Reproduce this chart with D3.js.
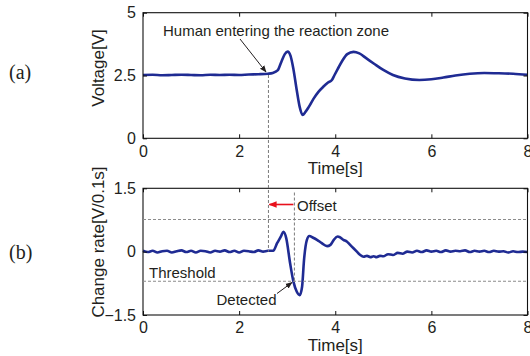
<!DOCTYPE html>
<html>
<head>
<meta charset="utf-8">
<script src="https://cdn.jsdelivr.net/npm/d3@7"></script>
<style>
  body { margin: 0; background: #fff; }
  text { font-family: "Liberation Sans", Arial, sans-serif; fill: #231f20; }
</style>
</head>
<body>
<div id="chart"></div>
<script>
// (a) sensor voltage
const voltageTime = [0, 0.2, 0.4, 0.6, 0.8, 1.0, 1.2, 1.4, 1.6, 1.8, 2.0, 2.2, 2.4, 2.6, 2.7, 2.8, 2.88, 2.95, 3.01, 3.07, 3.13, 3.2, 3.26, 3.32, 3.38, 3.45, 3.55, 3.65, 3.75, 3.85, 3.93, 3.98, 4.05, 4.15, 4.25, 4.38, 4.5, 4.65, 4.8, 5.0, 5.2, 5.45, 5.75, 6.0, 6.25, 6.5, 6.8, 7.1, 7.4, 7.7, 8.0];
const voltageValues = [2.52, 2.53, 2.51, 2.52, 2.53, 2.52, 2.51, 2.53, 2.52, 2.53, 2.52, 2.54, 2.55, 2.57, 2.6, 2.7, 3.05, 3.35, 3.45, 3.28, 2.75, 1.9, 1.25, 0.93, 1.05, 1.25, 1.58, 1.85, 2.05, 2.22, 2.32, 2.5, 2.75, 3.1, 3.35, 3.44, 3.38, 3.18, 2.98, 2.72, 2.52, 2.38, 2.32, 2.35, 2.42, 2.5, 2.57, 2.6, 2.59, 2.57, 2.53];

// (b) change rate
const rateTime = [0, 0.1, 0.2, 0.3, 0.4, 0.5, 0.6, 0.7, 0.8, 0.9, 1.0, 1.1, 1.2, 1.3, 1.4, 1.5, 1.6, 1.7, 1.8, 1.9, 2.0, 2.1, 2.2, 2.3, 2.4, 2.5, 2.6,
  2.71, 2.79, 2.87, 2.92, 2.98, 3.06, 3.13, 3.2, 3.26, 3.31, 3.35, 3.41, 3.46, 3.54, 3.62, 3.72, 3.83, 3.9, 3.97, 4.05, 4.1, 4.17, 4.24, 4.31, 4.38, 4.45, 4.52, 4.59, 4.66, 4.73, 4.8, 4.86, 4.93, 5.0, 5.1, 5.2, 5.3, 5.4, 5.5, 5.6,
  5.7, 5.8, 5.9, 6.0, 6.1, 6.2, 6.3, 6.4, 6.5, 6.6, 6.7, 6.8, 6.9, 7.0, 7.1, 7.2, 7.3, 7.4, 7.5, 7.6, 7.7, 7.8, 7.9, 8.0];
const rateValues = [0.02, -0.01, 0.02, -0.02, 0.01, 0.02, -0.02, 0.01, 0.03, -0.01, 0.02, -0.02, 0.02, 0.01, -0.02, 0.02, 0.0, 0.03, -0.01, 0.02, -0.02, 0.02, 0.01, -0.01, 0.03, 0.0, 0.02,
  0.02, 0.2, 0.36, 0.47, 0.32, -0.27, -0.71, -0.95, -1.03, -0.83, -0.2, 0.28, 0.37, 0.33, 0.28, 0.2, 0.13, 0.16, 0.28, 0.36, 0.34, 0.28, 0.24, 0.16, 0.08, 0.0, -0.08, -0.12, -0.1, -0.13, -0.11, -0.13, -0.1, -0.11, -0.06, -0.08, -0.03, -0.05, 0.0, -0.02,
  0.02, -0.01, 0.03, 0.0, 0.02, -0.01, 0.03, 0.0, 0.02, 0.01, 0.03, -0.01, 0.02, 0.0, 0.02, -0.01, 0.02, 0.0, 0.01, -0.02, 0.01, -0.01, 0.0, -0.01];

const timeTicks = [0, 2, 4, 6, 8];
const voltageTicks = [0, 2.5, 5];
const rateTicks = [-1.5, 0, 1.5];
const thresholdUpper = 0.76;
const thresholdLower = -0.7;
const enterTime = 2.61;
const detectTime = 3.15;

const W = 530, H = 356;
const lineColor = '#1f2b93';

const svg = d3.select('#chart').append('svg')
  .attr('width', W).attr('height', H);
svg.append('rect').attr('width', W).attr('height', H).attr('fill', '#fff');

const x = d3.scaleLinear().domain([0, 8]).range([143, 527.5]);
const yA = d3.scaleLinear().domain([0, 5]).range([138.3, 12.7]);
const yB = d3.scaleLinear().domain([-1.5, 1.5]).range([315, 188.3]);

const defs = svg.append('defs');
function marker(id, color, size) {
  defs.append('marker')
    .attr('id', id)
    .attr('viewBox', '0 0 10 10')
    .attr('refX', 9).attr('refY', 5)
    .attr('markerWidth', size).attr('markerHeight', size)
    .attr('markerUnits', 'userSpaceOnUse')
    .attr('orient', 'auto')
    .append('path').attr('d', 'M0,1 L10,5 L0,9 z').attr('fill', color);
}
marker('arrBlack', '#231f20', 7);
marker('arrRed', '#e8101c', 8);

function drawPanel(y, ticks, times, values, tickFmt) {
  const g = svg.append('g');
  const [x0, x1] = x.range();
  const [yb, yt] = y.range();

  // series
  const line = d3.line()
    .x((d, i) => x(times[i]))
    .y(d => y(d))
    .curve(d3.curveMonotoneX);
  g.append('path')
    .datum(values)
    .attr('d', line)
    .attr('fill', 'none')
    .attr('stroke', lineColor)
    .attr('stroke-width', 2.6)
    .attr('stroke-linejoin', 'round');

  // box
  g.append('rect')
    .attr('x', x0).attr('y', yt)
    .attr('width', x1 - x0).attr('height', yb - yt)
    .attr('fill', 'none').attr('stroke', '#111').attr('stroke-width', 1.1);

  // axes with inward ticks
  g.append('g').attr('transform', `translate(0,${yb})`)
    .call(d3.axisBottom(x).tickValues(timeTicks).tickSizeInner(-4).tickSizeOuter(0).tickPadding(7).tickFormat(d3.format('d')))
    .call(a => a.select('.domain').remove())
    .call(a => a.selectAll('text').attr('font-size', 16).attr('font-family', '"Liberation Sans", Arial, sans-serif').attr('fill', '#231f20'))
    .call(a => a.selectAll('line').attr('stroke', '#111'));
  g.append('g').attr('transform', `translate(0,${yt})`)
    .call(d3.axisTop(x).tickValues(timeTicks).tickSizeInner(-4).tickSizeOuter(0).tickFormat(''))
    .call(a => a.select('.domain').remove())
    .call(a => a.selectAll('line').attr('stroke', '#111'));
  g.append('g').attr('transform', `translate(${x0},0)`)
    .call(d3.axisLeft(y).tickValues(ticks).tickSizeInner(-4).tickSizeOuter(0).tickPadding(7).tickFormat(tickFmt))
    .call(a => a.select('.domain').remove())
    .call(a => a.selectAll('text').attr('font-size', 16).attr('font-family', '"Liberation Sans", Arial, sans-serif').attr('fill', '#231f20'))
    .call(a => a.selectAll('line').attr('stroke', '#111'));
  g.append('g').attr('transform', `translate(${x1},0)`)
    .call(d3.axisRight(y).tickValues(ticks).tickSizeInner(-4).tickSizeOuter(0).tickFormat(''))
    .call(a => a.select('.domain').remove())
    .call(a => a.selectAll('line').attr('stroke', '#111'));

  g.append('text')
    .attr('x', (x0 + x1) / 2 + 0).attr('y', yb + 36)
    .attr('text-anchor', 'middle')
    .attr('font-size', 17)
    .text('Time[s]');
  return g;
}

drawPanel(yA, voltageTicks, voltageTime, voltageValues, d => d === 2.5 ? '2.5' : d3.format('d')(d));
drawPanel(yB, rateTicks, rateTime, rateValues, d => d === 0 ? '0' : (d < 0 ? '\u22121.5' : '1.5'));

// threshold lines
[thresholdUpper, thresholdLower].forEach(v => {
  svg.append('line')
    .attr('x1', x(0)).attr('x2', x(8))
    .attr('y1', yB(v)).attr('y2', yB(v))
    .attr('stroke', '#8c8c8c').attr('stroke-width', 1.1)
    .attr('stroke-dasharray', '3,2');
});

// vertical markers
svg.append('line')
  .attr('x1', x(enterTime)).attr('x2', x(enterTime))
  .attr('y1', yA(2.52)).attr('y2', yB(0))
  .attr('stroke', '#7a7a7a').attr('stroke-width', 1)
  .attr('stroke-dasharray', '3,2');
svg.append('line')
  .attr('x1', x(detectTime)).attr('x2', x(detectTime))
  .attr('y1', yB(1.4)).attr('y2', yB(thresholdLower))
  .attr('stroke', '#7a7a7a').attr('stroke-width', 1)
  .attr('stroke-dasharray', '3,2');

// offset arrow
svg.append('line')
  .attr('x1', x(detectTime) - 1).attr('x2', x(enterTime) + 1)
  .attr('y1', 204.5).attr('y2', 204.5)
  .attr('stroke', '#e8101c').attr('stroke-width', 1.6)
  .attr('marker-end', 'url(#arrRed)');
svg.append('text').attr('x', 297).attr('y', 211).attr('font-size', 15).text('Offset');

// annotations
svg.append('text').attr('x', 163).attr('y', 35.5).attr('font-size', 15).text('Human entering the reaction zone');
svg.append('line')
  .attr('x1', 240).attr('y1', 39).attr('x2', 266).attr('y2', 72)
  .attr('stroke', '#231f20').attr('stroke-width', 1)
  .attr('marker-end', 'url(#arrBlack)');

svg.append('text').attr('x', 149).attr('y', 278).attr('font-size', 15).text('Threshold');
svg.append('text').attr('x', 216.5).attr('y', 304.5).attr('font-size', 15).text('Detected');
svg.append('line')
  .attr('x1', 277).attr('y1', 293.5).attr('x2', 292).attr('y2', 282.5)
  .attr('stroke', '#231f20').attr('stroke-width', 1)
  .attr('marker-end', 'url(#arrBlack)');

// y titles
svg.append('text')
  .attr('transform', 'translate(104,68) rotate(-90)')
  .attr('text-anchor', 'middle').attr('font-size', 17)
  .text('Voltage[V]');
svg.append('text')
  .attr('transform', 'translate(104,242) rotate(-90)')
  .attr('text-anchor', 'middle').attr('font-size', 17)
  .text('Change rate[V/0.1s]');

// panel labels
svg.append('text').attr('x', 9).attr('y', 78.5).attr('font-size', 20)
  .attr('font-family', '"Liberation Serif", "Times New Roman", serif').style('font-family', '"Liberation Serif", "Times New Roman", serif')
  .text('(a)');
svg.append('text').attr('x', 9).attr('y', 259).attr('font-size', 20)
  .style('font-family', '"Liberation Serif", "Times New Roman", serif')
  .text('(b)');
</script>
</body>
</html>
